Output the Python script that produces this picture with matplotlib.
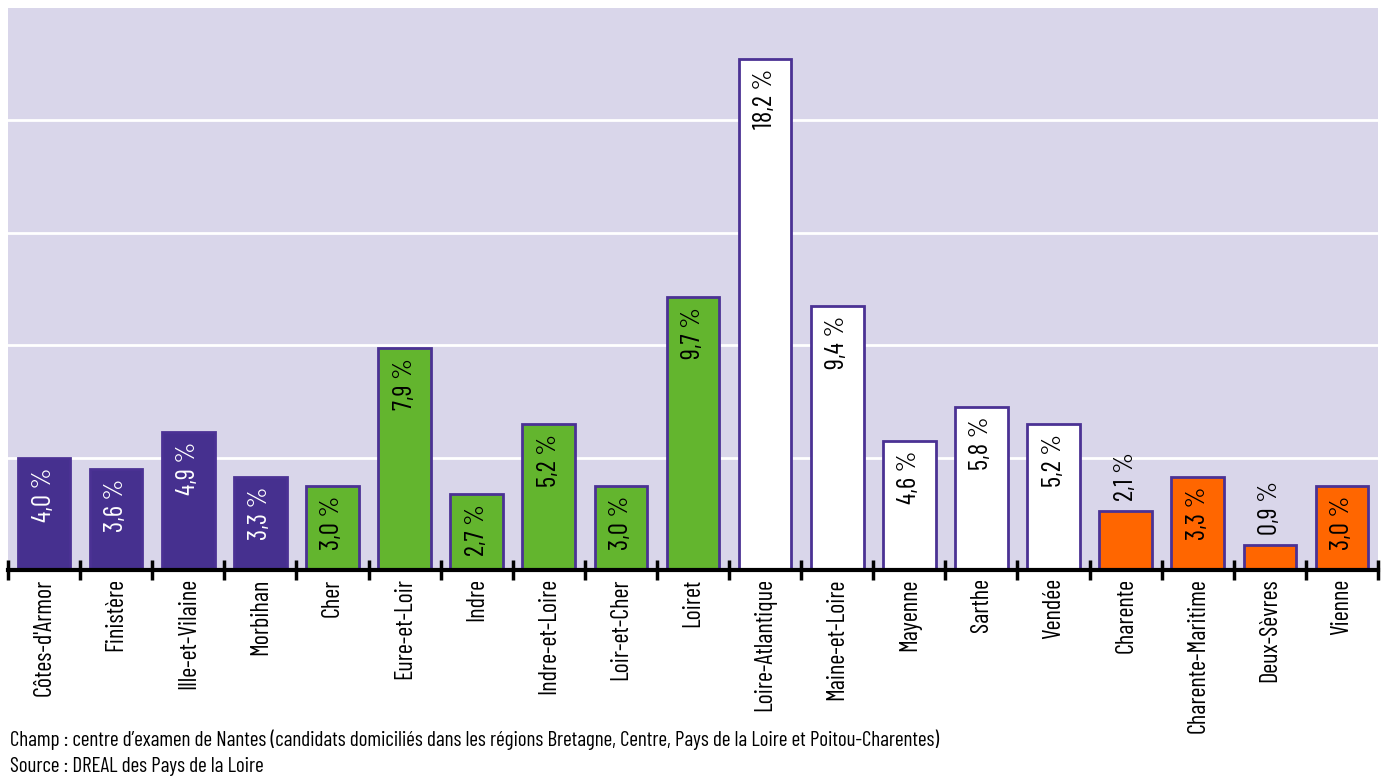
"""
Part des candidats par département - centre d'examen de Nantes
"""

import matplotlib
matplotlib.use("Agg")
import matplotlib.pyplot as plt

departements = ["Côtes-d'Armor", "Finistère", "Ille-et-Vilaine", "Morbihan",
                "Cher", "Eure-et-Loir", "Indre", "Indre-et-Loire", "Loir-et-Cher", "Loiret",
                "Loire-Atlantique", "Maine-et-Loire", "Mayenne", "Sarthe", "Vendée",
                "Charente", "Charente-Maritime", "Deux-Sèvres", "Vienne"]
valeurs = [4.0, 3.6, 4.9, 3.3,
           3.0, 7.9, 2.7, 5.2, 3.0, 9.7,
           18.2, 9.4, 4.6, 5.8, 5.2,
           2.1, 3.3, 0.9, 3.0]
regions = ["Bretagne"] * 4 + ["Centre"] * 6 + ["Pays de la Loire"] * 5 + ["Poitou-Charentes"] * 4

couleurs = {"Bretagne": "#46308f", "Centre": "#63b52e",
            "Pays de la Loire": "#ffffff", "Poitou-Charentes": "#ff6600"}
couleur_texte = {"Bretagne": "white", "Centre": "black",
                 "Pays de la Loire": "black", "Poitou-Charentes": "black"}

plt.rcParams['font.family'] = ['Barlow Condensed', 'DejaVu Sans']

fig = plt.figure(figsize=(13.83, 7.76), dpi=100)
ax = fig.add_axes([8 / 1383, 1 - 570 / 776, 1370 / 1383, 562 / 776])
ax.set_facecolor("#d9d6ea")

x = list(range(len(departements)))
ax.bar(x, valeurs, width=0.73, color=[couleurs[r] for r in regions],
       edgecolor="#4b3294", linewidth=2, zorder=3)

# Étiquettes de valeur
for xi, v, r in zip(x, valeurs, regions):
    txt = f"{v:.1f} %".replace(".", ",")
    if v > 2.5:
        ax.annotate(txt, (xi, v), xytext=(0, -7), textcoords="offset points",
                    rotation=90, ha="center", va="top", fontsize=19.5,
                    color=couleur_texte[r], zorder=4)
    else:
        ax.annotate(txt, (xi, v), xytext=(0, 7), textcoords="offset points",
                    rotation=90, ha="center", va="bottom", fontsize=19.5,
                    color="black", zorder=4)

ax.set_xlim(-0.5, len(departements) - 0.5)
ax.set_ylim(0, 20)
ax.set_yticks([4, 8, 12, 16])
ax.yaxis.grid(True, color="white", linewidth=2, zorder=1)
ax.tick_params(axis="y", length=0, labelleft=False)

# Repères entre les catégories, libellés au centre
ax.set_xticks([i - 0.5 for i in range(len(departements) + 1)])
ax.set_xticklabels([])
ax.set_xticks(x, minor=True)
ax.set_xticklabels(departements, minor=True, rotation=90, fontsize=17.5)
ax.tick_params(axis="x", which="major", direction="inout", length=15, width=2.5, color="black")
ax.tick_params(axis="x", which="minor", length=0, pad=6)

for s in ["top", "right", "left"]:
    ax.spines[s].set_visible(False)
ax.spines["bottom"].set_linewidth(3)
ax.spines["bottom"].set_zorder(5)

fig.text(10 / 1383, 1 - 740 / 776,
         "Champ : centre d’examen de Nantes (candidats domiciliés dans les régions Bretagne, Centre, Pays de la Loire et Poitou-Charentes)",
         fontsize=15.2, va="center")
fig.text(10 / 1383, 1 - 766 / 776, "Source : DREAL des Pays de la Loire",
         fontsize=15.2, va="center")

plt.savefig("out.png", dpi=100)
